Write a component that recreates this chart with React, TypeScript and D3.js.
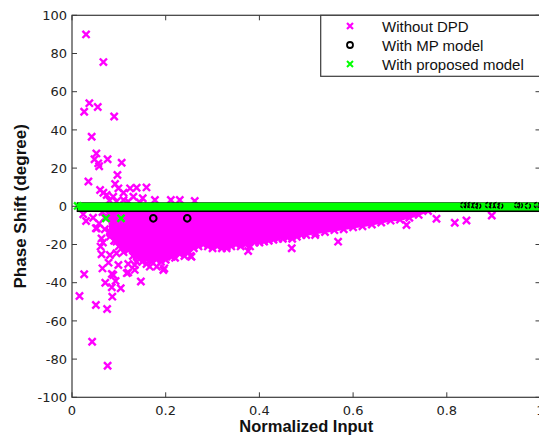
import React from 'react';
import * as d3 from 'd3';

const xTicks = [0, 0.2, 0.4, 0.6, 0.8, 1];
const yTicks = [-100, -80, -60, -40, -20, 0, 20, 40, 60, 80, 100];
const xLabel = 'Normalized Input';
const yLabel = 'Phase Shift (degree)';
const legendLabels = ['Without DPD', 'With MP model', 'With proposed model'];

// "Without DPD": individually visible points (outliers and ragged edges)
const withoutDpdPoints: [number, number][] = [
  [0.030, 90], [0.067, 75.5], [0.026, 49.5], [0.037, 54], [0.055, 52], [0.090, 47],
  [0.042, 36.4], [0.035, 13], [0.052, 27.7], [0.048, 24.6], [0.056, 22.5], [0.058, 21],
  [0.076, 24.6], [0.106, 22.8], [0.097, 16.4], [0.092, 11.7], [0.060, 8.5], [0.067, 7.1],
  [0.074, 5.9], [0.099, 9.4], [0.110, 7.1], [0.124, 9.4], [0.138, 9.7], [0.159, 9.9],
  [0.131, 5], [0.151, 4.2], [0.177, 3.3], [0.211, 3.3], [0.230, 3.3], [0.262, 2.8],
  [0.110, 3.3], [0.088, 5], [0.080, 3], [0.095, 2.5], [0.120, 2.5], [0.145, 2],
  [0.024, -4.2], [0.030, -7.7], [0.045, -6], [0.058, -9], [0.070, -12], [0.066, -19],
  [0.016, -47], [0.026, -35.6], [0.051, -51.7], [0.043, -70.9], [0.076, -83.5],
  [0.075, -53.8], [0.086, -47.3], [0.093, -39.1], [0.085, -42.4], [0.104, -42.9],
  [0.147, -39.4], [0.071, -40], [0.065, -32.5], [0.085, -35.4], [0.078, -29.5],
  [0.063, -25.1], [0.061, -21.1], [0.063, -16.8], [0.053, -11.5], [0.095, -24.6],
  [0.117, -35], [0.120, -30.2], [0.138, -29], [0.134, -33.3], [0.159, -30.2],
  [0.181, -31.6], [0.197, -32.5], [0.213, -26.4], [0.253, -26], [0.163, -25.5],
  [0.095, -18.5], [0.081, -15.9], [0.051, -11.5], [0.081, -13.3], [0.088, -36],
  [0.120, -34.6], [0.099, -30.7], [0.134, -30.7], [0.166, -31.6], [0.195, -33.4],
  [0.081, -25.5], [0.070, -6], [0.065, -3],
  [0.255, -26.4], [0.330, -22], [0.376, -23.4], [0.469, -22], [0.568, -18.5],
  [0.519, -15], [0.714, -9.8], [0.778, -6.5], [0.817, -8.6], [0.842, -7.4], [0.896, -4.8],
];

// dense core of "Without DPD": lower boundary read along x
const cloudX = [
  0.078, 0.082, 0.09, 0.10, 0.11, 0.12, 0.13, 0.14, 0.15, 0.16, 0.17, 0.18, 0.19, 0.20,
  0.21, 0.22, 0.23, 0.24, 0.25, 0.26, 0.27, 0.28, 0.29, 0.30, 0.31, 0.32, 0.33, 0.34,
  0.35, 0.36, 0.37, 0.38, 0.39, 0.40, 0.41, 0.42, 0.43, 0.44, 0.45, 0.46, 0.47, 0.48,
  0.49, 0.50, 0.52, 0.54, 0.56, 0.58, 0.60, 0.62, 0.64, 0.66, 0.68, 0.70, 0.72, 0.74,
  0.76, 0.77,
];
const cloudLow = [
  -4, -14, -18, -21, -24, -23, -26, -27, -29, -28, -29, -28, -29, -28,
  -26, -27, -25, -26, -24, -22, -21, -20, -21, -22, -21, -22, -21, -21,
  -20, -21, -20, -21, -19, -19, -18.5, -18, -17.5, -17, -17, -16.5, -17, -16,
  -15, -15, -14, -13.5, -12.5, -12, -11, -10.5, -9.5, -8.5, -7.5, -7, -6, -4.5,
  -2.5, -1,
];
const cloudTop = -0.5;

// "With MP model"
const mpPoints: [number, number][] = [[0.1735, -6.3], [0.246, -6.3]];
const mpVisibleOnBand: [number, number][] = [
  [0.835, 0.6], [0.842, 0.6], [0.850, 0.6], [0.860, 0.4], [0.867, 0.2], [0.888, 0.6],
  [0.896, 0.4], [0.906, 0.6], [0.914, 0.2], [0.950, 0.6], [0.956, 0.4], [0.973, 0.2], [0.992, 0.6],
];
const mpBand = { x0: 0.01, x1: 1.0, yTop: 2.1, yBottom: -3.0 };

// "With proposed model"
const proposedPoints: [number, number][] = [[0.0726, -6.3], [0.1046, -6.3], [0.012, 0.2]];
const proposedBand = { x0: 0.012, x1: 1.0, yTop: 1.9, yBottom: -2.2 };

const W = 539;
const H = 437;
const LEFT = 72;
const RIGHT = 540.5;
const TOP = 15.3;
const BOTTOM = 397.3;

const MAGENTA = '#ff00ff';
const GREEN = '#00ff00';
const AXIS = '#3a3a3a';

function xMark(cx: number, cy: number, s: number) {
  return `M${cx - s},${cy - s}L${cx + s},${cy + s}M${cx - s},${cy + s}L${cx + s},${cy - s}`;
}

export default function App() {
  const x = d3.scaleLinear().domain([0, 1]).range([LEFT, RIGHT]);
  const y = d3.scaleLinear().domain([-100, 100]).range([BOTTOM, TOP]);

  const cloudData = cloudX.map((v, i) => ({ x: v, low: cloudLow[i] }));
  const cloudArea = d3
    .area<{ x: number; low: number }>()
    .x((d) => x(d.x))
    .y0((d) => y(d.low))
    .y1(() => y(cloudTop))
    .curve(d3.curveLinear);

  const tickFont = '"DejaVu Sans", sans-serif';
  const labelFont = '"Liberation Sans", Arial, sans-serif';

  return (
    <svg
      width={W}
      height={H}
      style={{ position: 'absolute', left: 0, top: 0, background: '#fff' }}
    >
      <defs>
        <clipPath id="plotclip">
          <rect x={LEFT} y={TOP} width={RIGHT - LEFT} height={BOTTOM - TOP} />
        </clipPath>
      </defs>
      <rect x={0} y={0} width={W} height={H} fill="#fff" />
      <g clipPath="url(#plotclip)">
        {/* Without DPD dense core */}
        <path d={cloudArea(cloudData) || ''} fill={MAGENTA} stroke={MAGENTA} strokeWidth={2} />
        {cloudData.map((d, i) => (
          <path key={'ce' + i} d={xMark(x(d.x), y(d.low), 3.6)} stroke={MAGENTA} strokeWidth={2.4} />
        ))}
        {withoutDpdPoints.map((d, i) => (
          <path key={'m' + i} d={xMark(x(d[0]), y(d[1]), 3.6)} stroke={MAGENTA} strokeWidth={2.4} />
        ))}

        {/* MP model band beneath */}
        <rect
          x={x(mpBand.x0)}
          y={y(mpBand.yTop)}
          width={x(mpBand.x1) - x(mpBand.x0)}
          height={y(mpBand.yBottom) - y(mpBand.yTop)}
          fill="#000"
        />
        {mpPoints.map((d, i) => (
          <circle key={'mp' + i} cx={x(d[0])} cy={y(d[1])} r={3.3} fill="none" stroke="#000" strokeWidth={2} />
        ))}

        {/* proposed model */}
        <rect
          x={x(proposedBand.x0)}
          y={y(proposedBand.yTop)}
          width={x(proposedBand.x1) - x(proposedBand.x0)}
          height={y(proposedBand.yBottom) - y(proposedBand.yTop)}
          fill={GREEN}
        />
        {proposedPoints.map((d, i) => (
          <path key={'g' + i} d={xMark(x(d[0]), y(d[1]), 3.6)} stroke={GREEN} strokeWidth={2.4} />
        ))}
        {mpVisibleOnBand.map((d, i) => (
          <circle key={'mpv' + i} cx={x(d[0])} cy={y(d[1])} r={2.6} fill="none" stroke="#000" strokeWidth={1.4} strokeDasharray="3 1.5" />
        ))}
      </g>

      {/* axes box */}
      <rect x={LEFT} y={TOP} width={RIGHT - LEFT} height={BOTTOM - TOP} fill="none" stroke={AXIS} strokeWidth={1.2} />
      {xTicks.map((t) => (
        <g key={'xt' + t}>
          <line x1={x(t)} x2={x(t)} y1={BOTTOM} y2={BOTTOM - 5} stroke={AXIS} />
          <line x1={x(t)} x2={x(t)} y1={TOP} y2={TOP + 5} stroke={AXIS} />
          <text x={x(t)} y={415} textAnchor="middle" fontFamily={tickFont} fontSize={13} fill="#222">
            {String(t)}
          </text>
        </g>
      ))}
      {yTicks.map((t) => (
        <g key={'yt' + t}>
          <line x1={LEFT} x2={LEFT + 5} y1={y(t)} y2={y(t)} stroke={AXIS} />
          <line x1={RIGHT - 5} x2={RIGHT} y1={y(t)} y2={y(t)} stroke={AXIS} />
          <text x={67} y={y(t)} dy="0.36em" textAnchor="end" fontFamily={tickFont} fontSize={13} fill="#222">
            {String(t)}
          </text>
        </g>
      ))}

      <text x={(LEFT + RIGHT) / 2} y={432} textAnchor="middle" fontFamily={labelFont} fontWeight="bold" fontSize={16.5} fill="#111">
        {xLabel}
      </text>
      <text
        transform={`translate(25.5, ${(TOP + BOTTOM) / 2}) rotate(-90)`}
        textAnchor="middle"
        fontFamily={labelFont}
        fontWeight="bold"
        fontSize={17}
        fill="#111"
      >
        {yLabel}
      </text>

      {/* legend */}
      <g>
        <rect x={320.7} y={TOP} width={222} height={61} fill="#fff" stroke={AXIS} strokeWidth={1.2} />
        <path d={xMark(350, 26, 3)} stroke={MAGENTA} strokeWidth={2.2} />
        <circle cx={350} cy={45} r={3} fill="none" stroke="#000" strokeWidth={1.8} />
        <path d={xMark(350, 64, 3)} stroke={GREEN} strokeWidth={2} />
        {legendLabels.map((l, i) => (
          <text key={l} x={382} y={31.5 + i * 19} fontFamily={labelFont} fontSize={15} fill="#111">
            {l}
          </text>
        ))}
      </g>
    </svg>
  );
}
